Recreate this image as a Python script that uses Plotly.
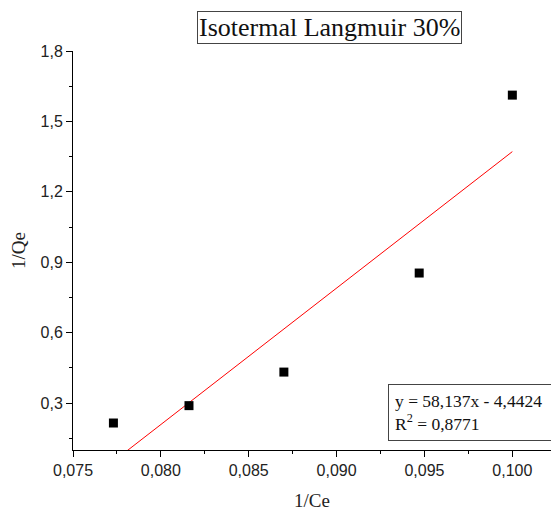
import plotly.graph_objects as go

# Data
inv_ce = [0.0773, 0.0816, 0.0870, 0.0947, 0.1000]
inv_qe = [0.215, 0.289, 0.432, 0.854, 1.612]
slope = 58.137
intercept = -4.4424
r2 = 0.8771
x_ticks = [0.075, 0.080, 0.085, 0.090, 0.095, 0.100]
y_ticks = [0.3, 0.6, 0.9, 1.2, 1.5, 1.8]

fit_x = [min(inv_ce), max(inv_ce)]
fit_y = [slope * v + intercept for v in fit_x]

fig = go.Figure()
fig.add_trace(go.Scatter(x=fit_x, y=fit_y, mode="lines",
                         line=dict(color="red", width=1), showlegend=False))
fig.add_trace(go.Scatter(x=inv_ce, y=inv_qe, mode="markers",
                         marker=dict(symbol="square", size=9, color="black"),
                         showlegend=False))

serif = "Liberation Serif, Times New Roman, serif"
sans = "Liberation Sans, Arial, sans-serif"

fig.update_layout(
    width=551, height=514,
    margin=dict(l=73, r=0, t=51, b=64),
    paper_bgcolor="white", plot_bgcolor="white",
    separators=",.",
    xaxis=dict(range=[0.075, 0.1022], tickvals=x_ticks, tickformat=".3f",
               showgrid=False, zeroline=False, showline=True, linecolor="black", linewidth=1,
               ticks="outside", ticklen=6, tickcolor="black",
               minor=dict(dtick=0.0025, tick0=0.075, ticks="outside", ticklen=3, tickcolor="black"),
               tickfont=dict(family=sans, size=16, color="#222"),
               title=dict(text="1/Ce", font=dict(family=serif, size=19, color="#222"), standoff=15)),
    yaxis=dict(range=[0.1, 1.8], tickvals=y_ticks, tickformat=".1f",
               showgrid=False, zeroline=False, showline=True, linecolor="black", linewidth=1,
               ticks="outside", ticklen=6, tickcolor="black",
               minor=dict(dtick=0.15, tick0=0.15, ticks="outside", ticklen=3, tickcolor="black"),
               tickfont=dict(family=sans, size=16, color="#222"),
               title=dict(text="1/Qe", font=dict(family=serif, size=19, color="#222"), standoff=9)),
)

fig.add_annotation(text="Isotermal Langmuir 30%", xref="paper", yref="paper",
                   x=0.537, y=1.058, xanchor="center", yanchor="middle", showarrow=False,
                   font=dict(family=serif, size=26, color="#111"),
                   bordercolor="#444", borderwidth=1, borderpad=1, bgcolor="white")

fig.add_annotation(text=f"y = {slope:.3f}x - {abs(intercept):.4f}".replace(".", ",")
                        + "<br>" + f"R<sup>2</sup> = {r2:.4f}".replace(".", ","),
                   xref="paper", yref="paper", x=0.659, y=0.165,
                   xanchor="left", yanchor="top", align="left", showarrow=False,
                   width=170,
                   font=dict(family=serif, size=17.5, color="#111"),
                   bordercolor="#444", borderwidth=1, borderpad=6, bgcolor="white")

fig.write_html("out.html")
